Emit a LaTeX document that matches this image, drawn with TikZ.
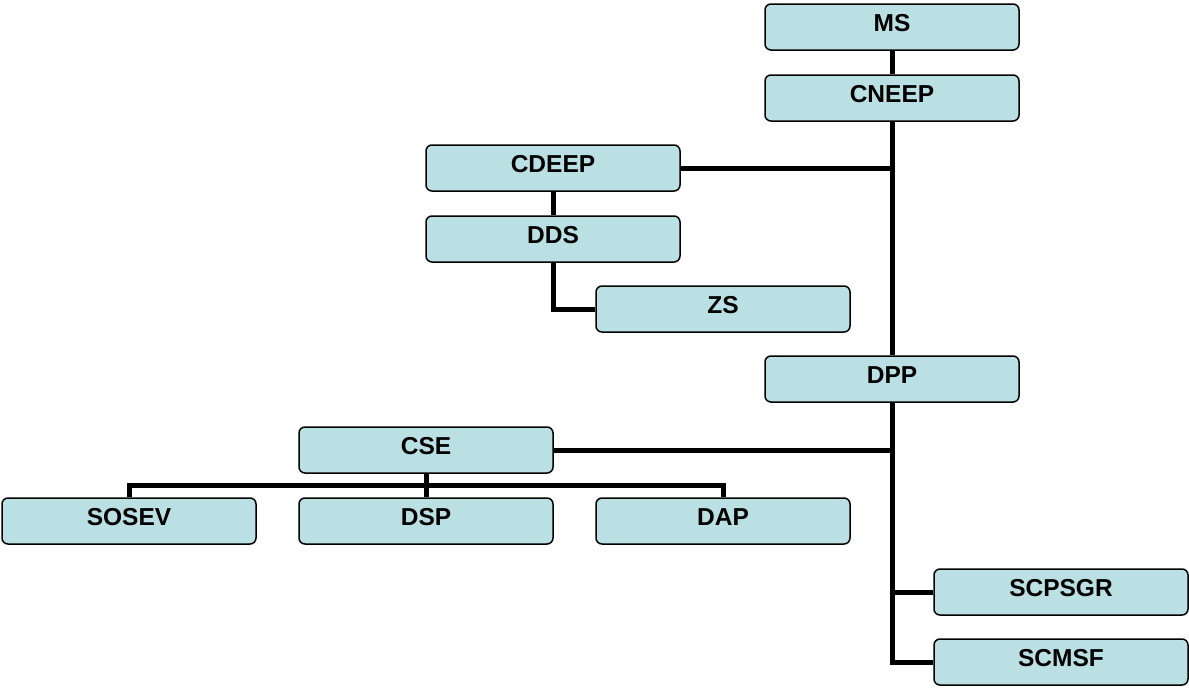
\documentclass[tikz,border=0pt]{standalone}
\usepackage{fontspec}
\setmainfont{Liberation Sans}
\usetikzlibrary{backgrounds,calc}
\definecolor{boxfill}{RGB}{187,224,227}
\tikzset{
  orgbox/.style={draw=black, line width=1.5pt, fill=boxfill, rounded corners=6pt,
    minimum width=254pt, minimum height=46pt, inner sep=0pt,
    text height=17.5pt, text depth=8pt,
    font=\fontsize{24.5pt}{26pt}\selectfont\bfseries},
  link/.style={line width=5pt, draw=black}
}
\begin{document}
\begin{tikzpicture}[x=1pt,y=-1pt]
\useasboundingbox (0,0) rectangle (1189,688);
\node[orgbox] (MS)     at (892,27)  {MS};
\node[orgbox] (CNEEP)  at (892,98)  {CNEEP};
\node[orgbox] (CDEEP)  at (553,168) {CDEEP};
\node[orgbox] (DDS)    at (553,239) {DDS};
\node[orgbox] (ZS)     at (723,309) {ZS};
\node[orgbox] (DPP)    at (892,379) {DPP};
\node[orgbox] (CSE)    at (426,450) {CSE};
\node[orgbox] (SOSEV)  at (129,521) {SOSEV};
\node[orgbox] (DSP)    at (426,521) {DSP};
\node[orgbox] (DAP)    at (723,521) {DAP};
\node[orgbox] (SCPSGR) at (1061,592) {SCPSGR};
\node[orgbox] (SCMSF)  at (1061,662) {SCMSF};
\begin{pgfonlayer}{background}
\draw[link] (MS.south) -- (CNEEP.north);
\draw[link] (CNEEP.south) -- (DPP.north);
\draw[link] (DPP.south) -- (DPP.south |- SCMSF.west) -- (SCMSF.west);
\draw[link] (CDEEP.east) -- (CDEEP.east -| CNEEP.south);
\draw[link] (CSE.east) -- (CSE.east -| DPP.south);
\draw[link] (SCPSGR.west) -- (SCPSGR.west -| DPP.south);
\draw[link] (CDEEP.south) -- (DDS.north);
\draw[link] (DDS.south) -- (DDS.south |- ZS.west) -- (ZS.west);
\coordinate (bus) at ($(CSE.south)!0.5!(DSP.north)$);
\draw[link] (CSE.south) -- (DSP.north);
\draw[link] (SOSEV.north) -- (SOSEV.north |- bus) -- (DAP.north |- bus) -- (DAP.north);
\end{pgfonlayer}
\end{tikzpicture}
\end{document}
